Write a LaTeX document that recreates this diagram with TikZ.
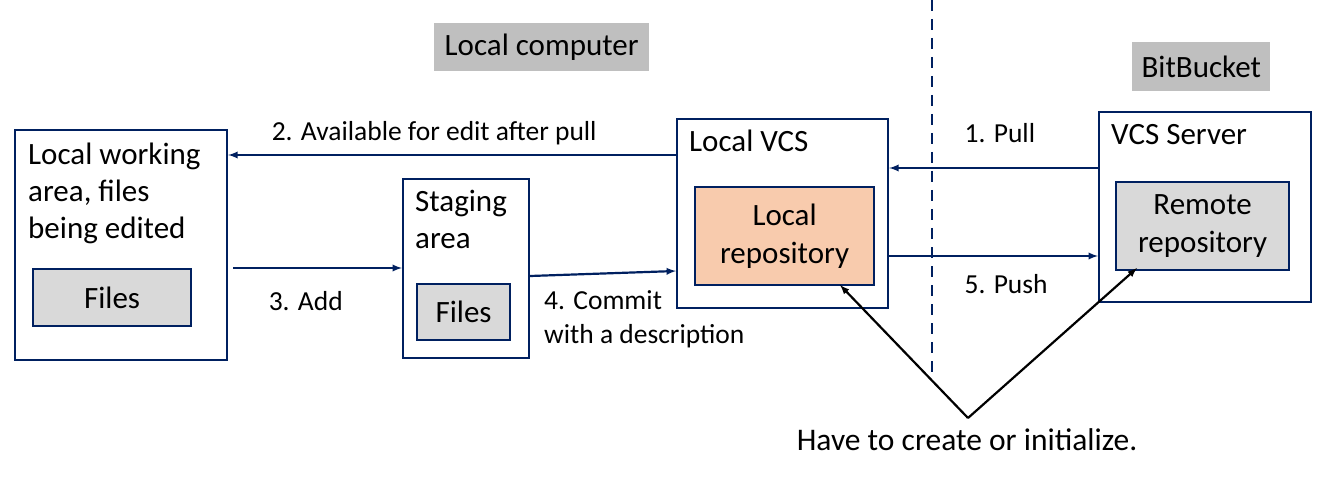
\documentclass[tikz,border=0pt]{standalone}
\usepackage{fontspec}
\setmainfont{Carlito}
\usetikzlibrary{arrows}
\definecolor{navy}{RGB}{0,32,96}
\definecolor{boxgray}{RGB}{217,217,217}
\definecolor{labgray}{RGB}{191,191,191}
\definecolor{peach}{RGB}{248,203,173}
\tikzset{
  outerbox/.style={draw=navy, line width=2.2pt, anchor=north west, inner sep=0pt},
  innerbox/.style={draw=navy, line width=2.2pt, fill=boxgray, anchor=north west, inner sep=0pt,
    align=center, font=\fontsize{31}{38}\selectfont},
  boxtext/.style={anchor=north west, align=left, inner sep=0pt, font=\fontsize{31}{37}\selectfont},
  steplabel/.style={text=black, inner sep=0pt, align=left, font=\fontsize{27.5}{34}\selectfont},
  placelabel/.style={fill=labgray, inner sep=0pt, anchor=north west, font=\fontsize{31}{36}\selectfont},
  flow/.style={navy, line width=2.2pt, -latex},
  hint/.style={black, line width=2.2pt, -latex}
}
\begin{document}
\begin{tikzpicture}[x=1pt, y=-1pt]
  \useasboundingbox (0,0) rectangle (1321,486);
  %Boites du diagramme
  \node[outerbox, minimum width=212, minimum height=230] (work) at (14,129) {};
  \node[boxtext] (worktxt) at (28,143) {Local working\\area, files\\being edited};
  \node[innerbox, minimum width=158, minimum height=57] (workfiles) at (32,268) {Files};
  \node[outerbox, minimum width=126, minimum height=179] (stage) at (402,178) {};
  \node[boxtext] (stagetxt) at (415,190) {Staging\\area};
  \node[innerbox, minimum width=93, minimum height=56] (stagefiles) at (416,283) {Files};
  \node[outerbox, minimum width=211, minimum height=189] (vcs) at (676,118) {};
  \node[boxtext] (vcstxt) at (689,130) {Local VCS};
  \node[innerbox, fill=peach, minimum width=179, minimum height=98] (localrepo) at (694,186)
    {Local\\repository};
  \node[outerbox, minimum width=212, minimum height=190] (server) at (1098,111) {};
  \node[boxtext] (servertxt) at (1111,124) {VCS Server};
  \node[innerbox, minimum width=173, minimum height=88] (remoterepo) at (1115,181)
    {Remote\\repository};
  %Etiquettes
  \node[placelabel, minimum width=215, minimum height=48] (computer) at (434,23) {Local computer};
  \node[placelabel, minimum width=138, minimum height=49] (bitbucket) at (1132,42) {BitBucket};
  \coordinate (sepTop) at (932,0);
  \coordinate (sepBot) at (932,378);
  \draw[navy, line width=2.5pt, dash pattern=on 11pt off 8pt] (sepTop) -- (sepBot);
  %Fleches
  \draw[flow] (vcs.west |- 0,155) -- (work.east |- 0,155)
    node[steplabel, pos=0.54, above=9pt] (lab2) {2. Available for edit after pull};
  \draw[flow] (work.east |- 0,268) ++(5,0) -- (stage.west |- 0,268)
    node[steplabel, pos=0.43, below=22pt] (lab3) {3. Add};
  \draw[flow] (stage.east |- 0,276) -- (vcs.west |- 0,271);
  \node[steplabel, anchor=north west] (lab4) at (544,290) {4. Commit\\with a description};
  \draw[flow] (server.west |- 0,168) -- (vcs.east |- 0,168)
    node[steplabel, pos=0.47, above=24pt] (lab1) {1. Pull};
  \draw[flow] (vcs.east |- 0,256) -- (server.west |- 0,256)
    node[steplabel, pos=0.56, below=17pt] (lab5) {5. Push};
  \node[anchor=north, inner sep=0pt, font=\fontsize{31.5}{36}\selectfont] (hinttxt) at (967,428)
    {Have to create or initialize.};
  \coordinate (hintTip) at (968,418);
  \draw[hint] (hintTip) -- (840,285);
  \draw[hint] (hintTip) -- (1137,268);
\end{tikzpicture}
\end{document}
